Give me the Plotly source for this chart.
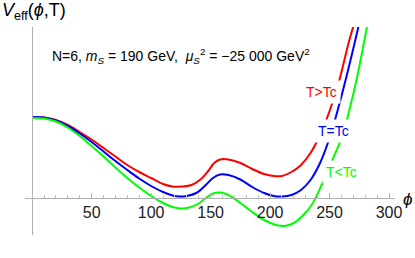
import plotly.graph_objects as go

# ---- data ----
phi_red = [0, 10, 20, 30, 40, 50, 60, 70, 80, 90, 100, 110, 118, 126, 134, 142, 148, 153, 158, 165,
           175, 185, 195, 203, 210, 218, 226, 234, 242, 250, 258, 266, 272]
v_red = [81, 80.5, 78, 73, 66, 58.5, 50, 41.5, 33, 26, 20, 14, 11.5, 11.5, 13, 19, 27, 35, 38.5, 38.5,
         35, 29, 24, 22, 22, 26, 33, 45, 63, 87, 117, 155, 180]

phi_blue = [0, 10, 20, 30, 40, 50, 60, 70, 80, 90, 100, 110, 118, 124, 130, 138, 146, 152, 158, 165,
            175, 185, 195, 203, 210, 218, 226, 234, 242, 250, 258, 266, 276]
v_blue = [81, 80.5, 77.5, 72, 64.5, 56, 46.5, 37, 28, 19.5, 12, 6, 2.5, 1.5, 2, 5, 13, 20, 23.5, 23,
          18.5, 11, 5, 2, 1.5, 3, 8, 18, 35, 60, 93, 130, 180]

phi_green = [0, 10, 20, 30, 40, 50, 60, 70, 80, 90, 100, 110, 118, 125, 132, 140, 146, 152, 158, 165,
             175, 185, 195, 205, 212, 220, 228, 236, 244, 252, 260, 266, 273, 282]
v_green = [80, 79.5, 76.5, 70.5, 62, 52, 41.5, 30.5, 20, 10.5, 2, -5, -9, -10.5, -9.5, -5.5, 0, 4.5, 5.5, 3,
           -5, -14, -22, -27, -28, -25, -17, -5, 15, 37, 60, 85, 120, 175]

x_ticks = [50, 100, 150, 200, 250, 300]
x_range = [-6, 305]
y_range = [-37, 171]

labels = ["T>Tc", "T=Tc", "T<Tc"]
label_x = [242.9, 253.0, 259.7]
label_y = [106, 67, 26]
colors = ["#ff0000", "#0000ff", "#00ff00"]

FONT = "Liberation Sans, Arial, sans-serif"

fig = go.Figure()
for xs, ys, c in [(phi_red, v_red, colors[0]), (phi_blue, v_blue, colors[1]), (phi_green, v_green, colors[2])]:
    fig.add_trace(go.Scatter(x=xs, y=ys, mode="lines", line=dict(color=c, width=2, shape="spline", smoothing=1.0),
                             showlegend=False, hoverinfo="skip"))

ypos_xaxis = (0 - y_range[0]) / (y_range[1] - y_range[0])
xpos_yaxis = (0 - x_range[0]) / (x_range[1] - x_range[0])

fig.update_layout(
    width=415, height=258,
    margin=dict(l=25, r=20, t=27, b=23),
    paper_bgcolor="white", plot_bgcolor="white",
    font=dict(family=FONT, color="#222222"),
    xaxis=dict(range=x_range, showgrid=False, zeroline=False, showline=True, linecolor="#b0b0b0", linewidth=1,
               anchor="free", position=ypos_xaxis, tickvals=x_ticks, ticks="inside", ticklen=5,
               tickcolor="#b0b0b0", tickfont=dict(size=16, family=FONT, color="#222222"),
               minor=dict(dtick=10, tick0=0, ticks="inside", ticklen=3, tickcolor="#c0c0c0")),
    yaxis=dict(range=y_range, showgrid=False, zeroline=False, showline=True, linecolor="#b0b0b0", linewidth=1,
               anchor="free", position=xpos_yaxis, showticklabels=False, ticks=""),
)

for t, x, y, c in zip(labels, label_x, label_y, colors):
    fig.add_annotation(x=x, y=y, xref="x", yref="y", text=t, showarrow=False,
                       font=dict(size=14, color=c, family=FONT), bgcolor="white", borderpad=3)

fig.add_annotation(x=125, y=142, xref="x", yref="y", showarrow=False,
                   text="N=6, <i>m<sub>S</sub></i> = 190 GeV,  <i>μ<sub>S</sub></i><sup>2</sup> = −25 000 GeV<sup>2</sup>",
                   font=dict(size=14, color="black", family=FONT))

fig.add_annotation(x=-25 / 370, y=1 + (27 - 11) / 208, xref="paper", yref="paper", xanchor="left", yanchor="middle",
                   showarrow=False, text="<i>V</i><sub>eff</sub>(<i>ϕ</i>,T)",
                   font=dict(size=18, color="black", family=FONT))

fig.add_annotation(x=(412 - 25) / 370, y=-1, xref="paper", yref="y", showarrow=False, xanchor="right",
                   yanchor="middle", borderpad=0, borderwidth=0,
                   text="<i>ϕ</i>", font=dict(size=17, color="black", family=FONT))

fig.write_html("out.html", config={"displayModeBar": False, "staticPlot": True},
               post_script="document.body.style.margin='0';document.body.style.overflow='hidden';")
